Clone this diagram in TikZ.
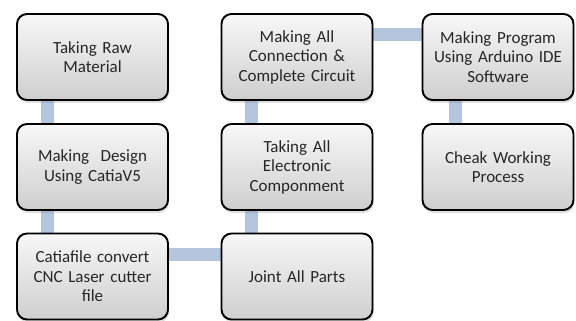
\documentclass[tikz,border=0pt]{standalone}
\usepackage{fontspec}
\setmainfont{Carlito}
\usetikzlibrary{shadows,backgrounds}

\definecolor{linkblue}{HTML}{B4C5DE}
\definecolor{boxtext}{HTML}{262626}

\tikzset{
  stepbox/.style={draw=black, line width=1.9pt, rounded corners=10pt,
    minimum width=151pt, minimum height=86pt, text width=144pt, align=center,
    top color=gray!6, bottom color=gray!38, text=boxtext,
    font=\fontsize{17}{19.5}\selectfont,
    drop shadow={shadow xshift=1pt, shadow yshift=-3pt, opacity=0.25}},
  link/.style={linkblue, line width=13pt}
}

\begin{document}
\begin{tikzpicture}[x=1pt,y=-1pt]
    \useasboundingbox (0,0) rectangle (576,321);

    \node[stepbox] (raw) at (92.5,57) {Taking Raw\\Material};
    \node[stepbox] (design) at (92.5,167) {Making\ \ Design\\Using CatiaV5};
    \node[stepbox] (convert) at (92.5,276.5) {Catiafile convert\\CNC Laser cutter\\file};

    \node[stepbox] (joint) at (297,276.5) {Joint All Parts};
    \node[stepbox] (elec) at (297,167) {Taking All\\Electronic\\Componment};
    \node[stepbox] (circuit) at (297,57) {Making All\\Connection \&\\Complete Circuit};

    \node[stepbox] (program) at (498,57) {Making Program\\Using Arduino IDE\\Software};
    \node[stepbox] (check) at (498,167) {Cheak Working\\Process};

    % bars behind the boxes
    \begin{scope}[on background layer]
        \draw[link] ([xshift=-45pt]raw.south) -- ([xshift=-45pt]design.north);
        \draw[link] ([xshift=-45pt]design.south) -- ([xshift=-45pt]convert.north);
        \draw[link] ([yshift=22pt]convert.east) -- ([yshift=22pt]joint.west);
        \draw[link] ([xshift=-46pt]joint.north) -- ([xshift=-46pt]elec.south);
        \draw[link] ([xshift=-46pt]elec.north) -- ([xshift=-46pt]circuit.south);
        \draw[link] ([yshift=22pt]circuit.east) -- ([yshift=22pt]program.west);
        \draw[link] ([xshift=-43pt]program.south) -- ([xshift=-43pt]check.north);
    \end{scope}
\end{tikzpicture}
\end{document}
